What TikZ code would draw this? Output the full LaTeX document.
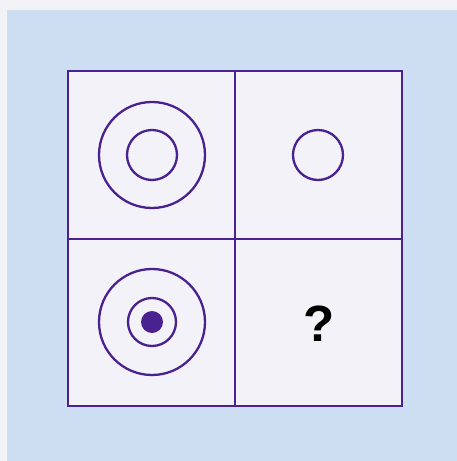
\documentclass[tikz,border=0pt]{standalone}
\usepackage{fontspec}
\setmainfont{Liberation Sans}
\definecolor{pagebg}{HTML}{F3F2F7}
\definecolor{panelbg}{HTML}{CDDEF3}
\definecolor{cellbg}{HTML}{F3F2F8}
\definecolor{ink}{HTML}{4A2290}
\begin{document}
\begin{tikzpicture}[x=1pt,y=-1pt,
  ring/.style={circle,draw=ink,line width=2.3pt,inner sep=0pt},
  dot/.style={circle,fill=ink,inner sep=0pt,minimum size=22pt}]
\useasboundingbox (0,0) rectangle (457,461);
\fill[pagebg] (0,0) rectangle (457,461);
\fill[panelbg] (7,10) rectangle (457,461);
\fill[cellbg] (68,71) rectangle (402,406);
\draw[ink,line width=2.2pt] (235,71) -- (235,406) (68,239) -- (402,239);
\draw[ink,line width=2.6pt] (68,71) rectangle (402,406);
% top-left
\node[ring,minimum size=106pt] (tlo) at (152,155) {};
\node[ring,minimum size=50pt] (tli) at (152,155) {};
% top-right
\node[ring,minimum size=50pt] (tri) at (318,155) {};
% bottom-left
\node[ring,minimum size=106pt] (blo) at (152,322) {};
\node[ring,minimum size=48pt] (bli) at (152,322) {};
\node[dot] (bld) at (152,322) {};
% bottom-right
\node[font=\bfseries\fontsize{51}{51}\selectfont,inner sep=0pt] (q) at (319,324) {?};
\end{tikzpicture}
\end{document}
